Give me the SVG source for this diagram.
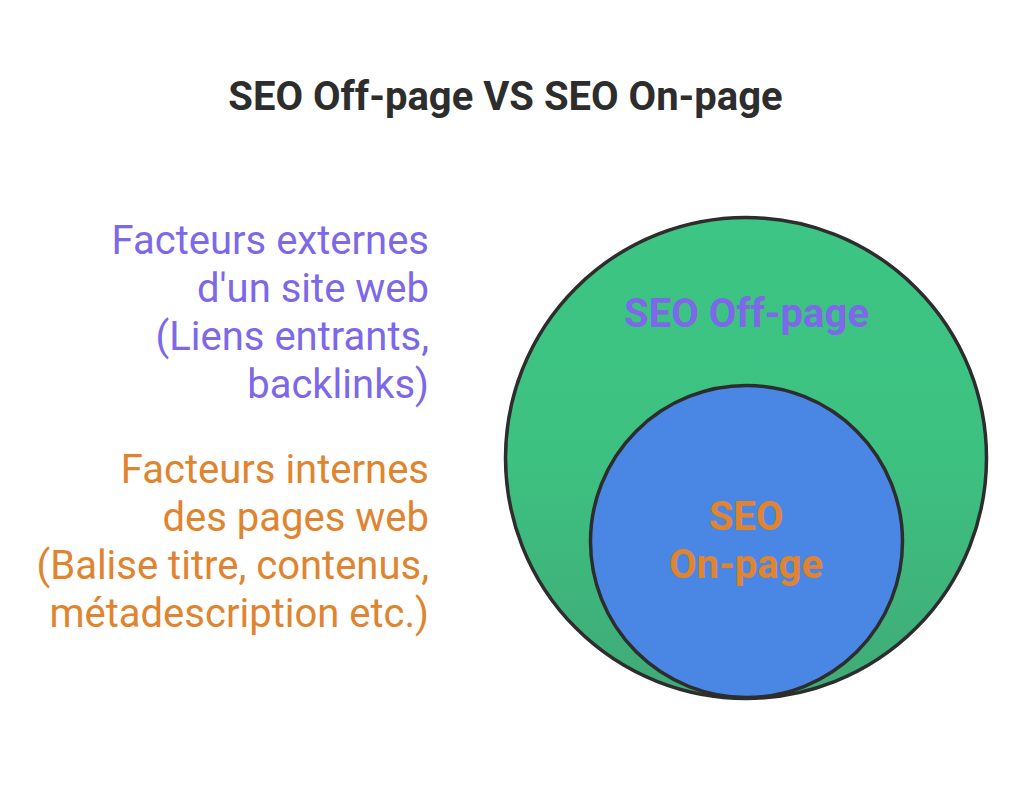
<svg xmlns="http://www.w3.org/2000/svg" width="1036" height="797" viewBox="0 0 1036 797">
<defs>
<linearGradient id="gGreen" x1="0" y1="0" x2="0" y2="1">
<stop offset="0" stop-color="#3cc584"/>
<stop offset="0.5" stop-color="#3dc181"/>
<stop offset="1" stop-color="#40aa77"/>
</linearGradient>
<style>
.t{font-family:Roboto,"Liberation Sans",sans-serif;}
.title{font-size:40px;font-weight:700;fill:#2d2d2d;}
.side{font-size:40px;text-anchor:end;}
.purple{fill:#7c68e8;}
.orange{fill:#e0842f;}
.lbl{font-size:40px;font-weight:700;text-anchor:middle;}
.ring{stroke:#2d2d2d;stroke-width:3.5;}
</style>
</defs>
<rect width="1036" height="797" fill="#ffffff"/>
<text class="t title" x="505.5" y="110" text-anchor="middle">SEO Off-page VS SEO On-page</text>
<g id="offpage-desc">
<text class="t side purple" x="429" y="254">Facteurs externes</text>
<text class="t side purple" x="429" y="302">d'un site web</text>
<text class="t side purple" x="429" y="350">(Liens entrants,</text>
<text class="t side purple" x="429" y="398">backlinks)</text>
</g>
<g id="onpage-desc">
<text class="t side orange" x="429" y="483">Facteurs internes</text>
<text class="t side orange" x="429" y="531">des pages web</text>
<text class="t side orange" x="429" y="579">(Balise titre, contenus,</text>
<text class="t side orange" x="429" y="627">métadescription etc.)</text>
</g>
<g id="offpage">
<circle class="ring" cx="746" cy="458" r="240.5" fill="url(#gGreen)"/>
<text class="t lbl purple" x="746.5" y="327">SEO Off-page</text>
</g>
<g id="onpage">
<circle class="ring" cx="746.5" cy="541.5" r="156" fill="#4a87e4"/>
<text class="t lbl orange" x="746" y="530">SEO</text>
<text class="t lbl orange" x="746" y="578">On-page</text>
</g>
<g id="connectors"></g>
</svg>
